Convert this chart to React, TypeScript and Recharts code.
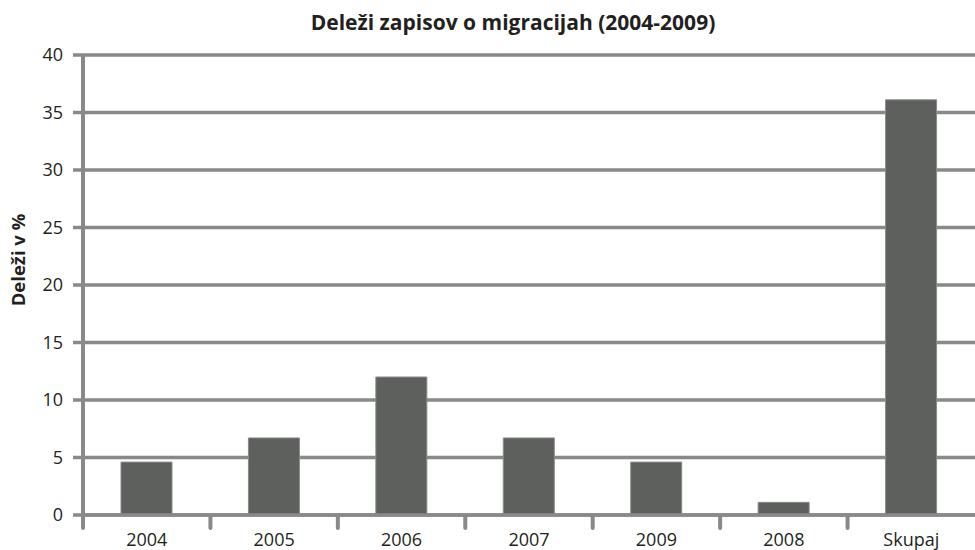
import { BarChart, Bar, XAxis, YAxis, CartesianGrid, Label } from 'recharts';

const categories = ['2004', '2005', '2006', '2007', '2009', '2008', 'Skupaj'];
const shares = [4.6, 6.7, 12, 6.7, 4.6, 1.1, 36.1];
const yTicks = [0, 5, 10, 15, 20, 25, 30, 35, 40];

const data = categories.map((year, i) => ({ year, share: shares[i] }));

const W = 975;
const H = 550;
const LEFT = 83;
const PLOT_W = W - LEFT;
const GRID = '#898989';
const TEXT = '#231f20';
const FONT = '"Open Sans", sans-serif';

const XTick = (props: any) => {
  const { x, y, payload } = props;
  const bw = PLOT_W / categories.length;
  const lx = x - bw / 2;
  return (
    <g>
      <line x1={lx} x2={lx} y1={y} y2={y + 11} stroke={GRID} strokeWidth={4} strokeLinecap="round" />
      <text x={x} y={y + 29} textAnchor="middle" fill={TEXT} fontSize={18} fontFamily={FONT}>
        {payload.value}
      </text>
    </g>
  );
};

const App = () => {
  return (
    <div style={{ position: 'absolute', left: 0, top: 0, width: W, height: H, background: '#fff' }}>
      <div
        style={{
          position: 'absolute',
          left: 0,
          top: 8,
          width: 1026,
          textAlign: 'center',
          fontFamily: FONT,
          fontWeight: 700,
          fontSize: 21,
          color: TEXT,
        }}
      >
        Deleži zapisov o migracijah (2004-2009)
      </div>
      <BarChart
        width={W}
        height={H}
        data={data}
        margin={{ top: 55, right: 0, bottom: 0, left: 0 }}
        barSize={51}
      >
        <CartesianGrid vertical={false} stroke={GRID} strokeWidth={3.5} />
        <XAxis
          dataKey="year"
          height={35}
          interval={0}
          tickSize={0}
          axisLine={{ stroke: GRID, strokeWidth: 3.5 }}
          tickLine={false}
          tick={<XTick />}
        />
        <YAxis
          width={LEFT}
          domain={[0, 40]}
          ticks={yTicks}
          interval={0}
          tickSize={10}
          tickMargin={10}
          axisLine={{ stroke: GRID, strokeWidth: 4 }}
          tickLine={{ stroke: GRID, strokeWidth: 3.5 }}
          tick={{ fill: TEXT, fontSize: 18, fontFamily: FONT }}
        >
          <Label
            content={() => (
              <text
                transform="translate(25,260) rotate(-90)"
                textAnchor="middle"
                fill={TEXT}
                fontSize={18.5}
                fontWeight={700}
                fontFamily={FONT}
              >
                Deleži v %
              </text>
            )}
          />
        </YAxis>
        <Bar dataKey="share" fill="#5e605e" stroke="#8a8a8a" strokeWidth={1} isAnimationActive={false} />
      </BarChart>
    </div>
  );
};

export default App;
